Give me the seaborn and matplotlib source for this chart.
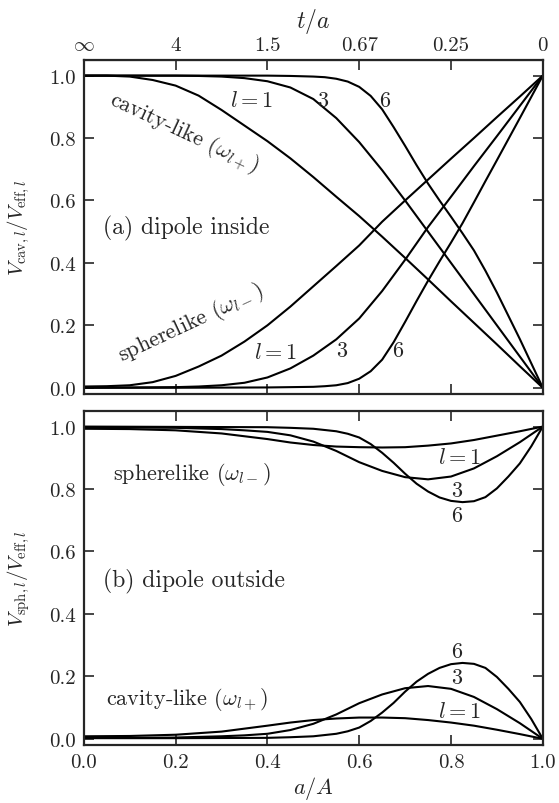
import numpy as np
import pandas as pd
import matplotlib
matplotlib.use("Agg")
import matplotlib.pyplot as plt
import seaborn as sns

# ---- (a) dipole inside ----
xa_1 = [0, 0.05, 0.1, 0.15, 0.2, 0.25, 0.3, 0.35, 0.4, 0.45, 0.5, 0.55, 0.6, 0.65, 0.7, 0.75, 0.8, 0.85, 0.9, 0.95, 1.0]
cav_a_l1 = [1.0, 1.0, 0.997, 0.986, 0.968, 0.936, 0.89, 0.84, 0.79, 0.735, 0.675, 0.612, 0.55, 0.484, 0.416, 0.347, 0.277, 0.208, 0.139, 0.069, 0.0]
sph_a_l1 = [0.004, 0.005, 0.008, 0.018, 0.038, 0.068, 0.103, 0.148, 0.2, 0.26, 0.325, 0.39, 0.456, 0.532, 0.6, 0.667, 0.734, 0.8, 0.867, 0.933, 1.0]

xa_3 = [0, 0.1, 0.2, 0.25, 0.3, 0.35, 0.4, 0.45, 0.5, 0.55, 0.6, 0.65, 0.7, 0.75, 0.8, 0.85, 0.9, 0.95, 1.0]
cav_a_l3 = [1.0, 1.0, 1.0, 0.999, 0.997, 0.992, 0.982, 0.962, 0.925, 0.864, 0.787, 0.697, 0.6, 0.5, 0.4, 0.3, 0.2, 0.1, 0.0]
sph_a_l3 = [0.0, 0.001, 0.002, 0.004, 0.008, 0.016, 0.033, 0.062, 0.103, 0.155, 0.222, 0.31, 0.41, 0.515, 0.612, 0.71, 0.806, 0.903, 1.0]

xa_6 = [0, 0.2, 0.4, 0.45, 0.5, 0.525, 0.55, 0.575, 0.6, 0.625, 0.65, 0.675, 0.7, 0.725, 0.75, 0.775, 0.8, 0.825, 0.85, 0.875, 0.9, 0.95, 1.0]
cav_a_l6 = [1.0, 1.0, 1.0, 0.999, 0.997, 0.995, 0.99, 0.981, 0.964, 0.935, 0.892, 0.835, 0.775, 0.713, 0.654, 0.6, 0.548, 0.495, 0.44, 0.375, 0.305, 0.156, 0.0]
sph_a_l6 = [0.0, 0.0, 0.001, 0.002, 0.003, 0.005, 0.008, 0.015, 0.029, 0.053, 0.09, 0.146, 0.211, 0.278, 0.343, 0.405, 0.465, 0.527, 0.594, 0.662, 0.729, 0.864, 1.0]

# ---- (b) dipole outside ----
xb_1 = [0, 0.1, 0.2, 0.3, 0.4, 0.45, 0.5, 0.55, 0.6, 0.65, 0.7, 0.75, 0.8, 0.85, 0.9, 0.95, 1.0]
sph_b_l1 = [0.993, 0.992, 0.988, 0.978, 0.96, 0.949, 0.941, 0.936, 0.934, 0.933, 0.934, 0.939, 0.946, 0.957, 0.971, 0.985, 1.0]
cav_b_l1 = [0.008, 0.009, 0.013, 0.023, 0.042, 0.052, 0.06, 0.065, 0.068, 0.068, 0.066, 0.06, 0.052, 0.042, 0.029, 0.015, 0.0]

xb_3 = [0, 0.1, 0.2, 0.3, 0.35, 0.4, 0.45, 0.5, 0.55, 0.6, 0.65, 0.7, 0.75, 0.8, 0.85, 0.9, 0.95, 1.0]
sph_b_l3 = [0.998, 0.997, 0.996, 0.992, 0.988, 0.983, 0.972, 0.952, 0.922, 0.886, 0.858, 0.838, 0.831, 0.84, 0.866, 0.905, 0.95, 1.0]
cav_b_l3 = [0.003, 0.003, 0.004, 0.008, 0.011, 0.016, 0.028, 0.048, 0.078, 0.114, 0.142, 0.162, 0.169, 0.16, 0.134, 0.095, 0.05, 0.0]

xb_6 = [0, 0.2, 0.4, 0.45, 0.5, 0.55, 0.575, 0.6, 0.625, 0.65, 0.675, 0.7, 0.725, 0.75, 0.775, 0.8, 0.825, 0.85, 0.875, 0.9, 0.925, 0.95, 0.975, 1.0]
sph_b_l6 = [1.0, 0.999, 0.998, 0.996, 0.993, 0.985, 0.977, 0.965, 0.944, 0.916, 0.884, 0.849, 0.817, 0.792, 0.773, 0.762, 0.758, 0.761, 0.774, 0.802, 0.84, 0.882, 0.937, 1.0]
cav_b_l6 = [0.002, 0.002, 0.003, 0.005, 0.008, 0.016, 0.024, 0.036, 0.057, 0.084, 0.115, 0.151, 0.183, 0.208, 0.227, 0.239, 0.243, 0.24, 0.227, 0.198, 0.16, 0.118, 0.063, 0.0]

top_ticks = [0, 0.2, 0.4, 0.6, 0.8, 1.0]
top_labels = [r"$\infty$", "4", "1.5", "0.67", "0.25", "0"]


def long_df(curves):
    frames = []
    for name, xs, ys in curves:
        frames.append(pd.DataFrame({"x": xs, "y": ys, "series": name}))
    return pd.concat(frames, ignore_index=True)


df_a = long_df([
    ("cav1", xa_1, cav_a_l1), ("sph1", xa_1, sph_a_l1),
    ("cav3", xa_3, cav_a_l3), ("sph3", xa_3, sph_a_l3),
    ("cav6", xa_6, cav_a_l6), ("sph6", xa_6, sph_a_l6),
])
df_b = long_df([
    ("sph1", xb_1, sph_b_l1), ("cav1", xb_1, cav_b_l1),
    ("sph3", xb_3, sph_b_l3), ("cav3", xb_3, cav_b_l3),
    ("sph6", xb_6, sph_b_l6), ("cav6", xb_6, cav_b_l6),
])

sns.set_style("ticks")
plt.rcParams["font.family"] = ["cmr10", "DejaVu Serif"]
plt.rcParams["mathtext.fontset"] = "cm"
plt.rcParams["axes.formatter.use_mathtext"] = True
plt.rcParams["axes.unicode_minus"] = False

fig = plt.figure(figsize=(5.59, 8.04), dpi=100)
ax1 = fig.add_axes([0.150, 0.5087, 0.821, 0.4154])
ax2 = fig.add_axes([0.150, 0.0721, 0.821, 0.4155])

for ax, df in [(ax1, df_a), (ax2, df_b)]:
    sns.lineplot(data=df, x="x", y="y", units="series", estimator=None,
                 sort=False, color="black", lw=1.5, ax=ax)
    ax.set_xlim(0, 1)
    ax.set_ylim(-0.02, 1.05)
    ax.set_yticks([0, 0.2, 0.4, 0.6, 0.8, 1.0])
    ax.set_yticklabels(["0.0", "0.2", "0.4", "0.6", "0.8", "1.0"])
    ax.set_xticks([0, 0.2, 0.4, 0.6, 0.8, 1.0])
    ax.tick_params(direction="in", length=7, width=1.2, labelsize=15,
                   right=True, pad=6)
    for s in ax.spines.values():
        s.set_linewidth(1.6)
        s.set_visible(True)
    ax.set_xlabel("")
    ax.set_ylabel("")

# top panel: no bottom labels, secondary t/a axis
ax1.tick_params(labelbottom=False)
sec = ax1.secondary_xaxis("top")
sec.set_xticks(top_ticks, top_labels)
sec.tick_params(direction="in", length=7, width=1.2, labelsize=15, pad=4)
ax1.text(0.5, 1.117, r"$t/a$", fontsize=17, ha="center", va="center",
         transform=ax1.transAxes)

ax2.tick_params(top=True)
ax2.set_xticklabels(["0.0", "0.2", "0.4", "0.6", "0.8", "1.0"])
ax2.set_xlabel(r"$a/A$", fontsize=16)
ax2.xaxis.set_label_coords(0.5, -0.088)

ax1.set_ylabel(r"$V_{\rm cav,\mathit{l}}/V_{\rm eff,\mathit{l}}$", fontsize=15)
ax1.yaxis.set_label_coords(-0.113, 0.5)
ax2.set_ylabel(r"$V_{\rm sph,\mathit{l}}/V_{\rm eff,\mathit{l}}$", fontsize=15)
ax2.yaxis.set_label_coords(-0.113, 0.5)

# annotations, panel (a)
ax1.text(0.218, 0.82, r"cavity-like ($\omega_{l+}$)", fontsize=16,
         rotation=-25, ha="center", va="center")
ax1.text(0.233, 0.21, r"spherelike ($\omega_{l-}$)", fontsize=16,
         rotation=25, ha="center", va="center")
ax1.text(0.042, 0.515, "(a) dipole inside", fontsize=17, ha="left", va="center")
ax1.text(0.366, 0.923, r"$l=1$", fontsize=16, ha="center", va="center")
ax1.text(0.52, 0.92, "3", fontsize=16, ha="center", va="center")
ax1.text(0.656, 0.92, "6", fontsize=16, ha="center", va="center")
ax1.text(0.418, 0.115, r"$l=1$", fontsize=16, ha="center", va="center")
ax1.text(0.562, 0.119, "3", fontsize=16, ha="center", va="center")
ax1.text(0.684, 0.119, "6", fontsize=16, ha="center", va="center")

# annotations, panel (b)
ax2.text(0.236, 0.85, r"spherelike ($\omega_{l-}$)", fontsize=16, ha="center", va="center")
ax2.text(0.226, 0.128, r"cavity-like ($\omega_{l+}$)", fontsize=16, ha="center", va="center")
ax2.text(0.042, 0.506, "(b) dipole outside", fontsize=17, ha="left", va="center")
ax2.text(0.819, 0.904, r"$l=1$", fontsize=16, ha="center", va="center")
ax2.text(0.812, 0.795, "3", fontsize=16, ha="center", va="center")
ax2.text(0.812, 0.715, "6", fontsize=16, ha="center", va="center")
ax2.text(0.812, 0.279, "6", fontsize=16, ha="center", va="center")
ax2.text(0.812, 0.196, "3", fontsize=16, ha="center", va="center")
ax2.text(0.819, 0.09, r"$l=1$", fontsize=16, ha="center", va="center")

fig.savefig("out.png", dpi=100)
